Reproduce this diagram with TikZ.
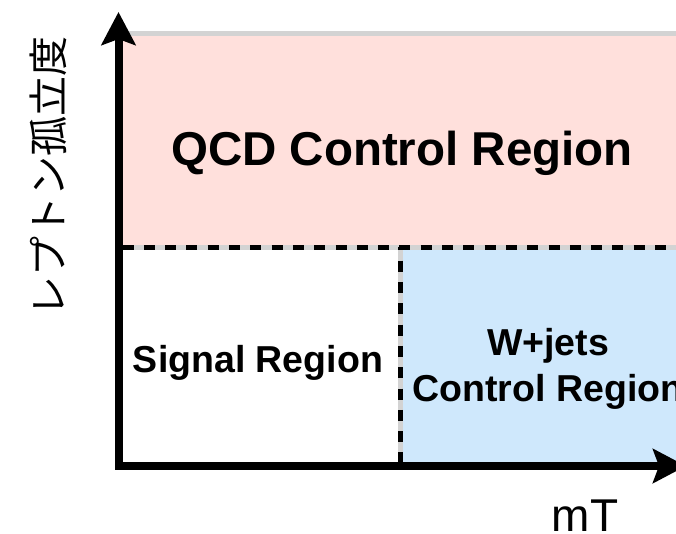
\documentclass[tikz,border=0pt]{standalone}
\usepackage{fontspec}
\setmainfont{Liberation Sans}
\newfontfamily\jpfont{Noto Sans CJK JP}
\usetikzlibrary{arrows.meta}
\definecolor{qcdpink}{RGB}{255,224,220}
\definecolor{wblue}{RGB}{207,232,252}
\definecolor{bordergray}{RGB}{211,211,211}
\tikzset{
  regionbox/.style={draw=bordergray, line width=5pt},
  divline/.style={draw=black, line width=5pt, dash pattern=on 11pt off 10.3pt},
  axisline/.style={line width=8pt, line join=miter,
    {Stealth[length=33pt,width=34pt,inset=6pt]}-{Stealth[length=33pt,width=34pt,inset=6pt]}},
  boldlabel/.style={font=\fontsize{37.5}{47}\selectfont\bfseries, anchor=base, inner sep=0pt},
}
\begin{document}
\begin{tikzpicture}[x=1pt,y=-1pt]
\useasboundingbox (0,0) rectangle (676,533);
\clip (0,0) rectangle (676,533);
% named corners
\coordinate (O) at (118.5,466);
\coordinate (ytip) at (118.5,12);
\coordinate (xtip) at (686,466);
\coordinate (mid) at (400,247);
% regions
\draw[regionbox, fill=qcdpink] (118,33) rectangle (720,247);
\draw[regionbox, fill=white] (118,247) rectangle (400,466);
\draw[regionbox, fill=wblue] (400,247) rectangle (720,466);
% dashed dividers
\coordinate (hleft) at (118,247);
\coordinate (hright) at (720,247);
\coordinate (vbot) at (400,466);
\draw[divline, dash phase=16.8pt] (hleft) -- (hright);
\draw[divline, dash phase=7.6pt] (mid) -- (vbot);
% labels
\node[boldlabel, font=\fontsize{47.5}{57}\selectfont\bfseries] (qcd) at (402,165) {QCD Control Region};
\node[boldlabel] (sig) at (258,372.7) {Signal Region};
\node[boldlabel] (wj1) at (548,355) {W+jets};
\node[boldlabel] (wj2) at (548,401.7) {Control Region};
% axes
\draw[axisline] (ytip) -- (O) -- (xtip);
\node[anchor=base, inner sep=0pt, font=\fontsize{46}{55}\selectfont] (mt) at (585,531) {mT};
\node[rotate=90, inner sep=0pt, font=\jpfont\fontsize{40}{48}\selectfont] (iso) at (48,176) {レプトン孤立度};
\end{tikzpicture}
\end{document}
